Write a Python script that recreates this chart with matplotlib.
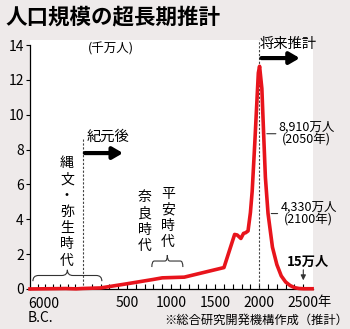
import matplotlib.pyplot as plt
from matplotlib.path import Path
from matplotlib.patches import PathPatch

plt.rcParams['font.family'] = ['Liberation Sans Narrow', 'Noto Sans CJK JP', 'DejaVu Sans']
JP = ['Noto Sans CJK JP', 'DejaVu Sans']

# population in units of 10 million (千万人)
bc_years = [7000, 5200, 2300, 900]
bc_pop = [0.002, 0.011, 0.026, 0.008]
ad_years = [0, 200, 500, 800, 900, 1150, 1600, 1721, 1750, 1792, 1822, 1846, 1873,
            1900, 1920, 1950, 1970, 1990, 2004, 2030, 2050, 2070, 2100, 2150, 2200,
            2250, 2300, 2350, 2400, 2450, 2500, 2600]
ad_pop = [0.03, 0.06, 0.3, 0.55, 0.64, 0.68, 1.23, 3.13, 3.1, 2.9, 3.19, 3.23, 3.33,
          4.38, 5.6, 8.4, 10.4, 12.4, 12.78, 11.5, 8.91, 6.4, 4.33, 2.4, 1.4,
          0.75, 0.4, 0.2, 0.08, 0.03, 0.015, 0.015]

y_ticks = [0, 2, 4, 6, 8, 10, 12, 14]
bc_tick_years = [6000, 5000, 4000, 3000, 2000, 1000]
x_label_years = [500, 1000, 1500, 2000, 2500]
x_labels = ['500', '1000', '1500', '2000', '2500']

BC_SPAN = 600  # axis width given to 7000 years B.C.
red = '#e8141c'


def bc_pos(y):
    return -y * BC_SPAN / 7000


def brace(ax, x0, x1, y_end, y_tip):
    xm = (x0 + x1) / 2
    ym = (y_end + y_tip) / 2
    r = (x1 - x0) * 0.08
    verts = [(x0, y_end), (x0, ym), (x0 + r, ym),
             (xm - r, ym), (xm, ym), (xm, y_tip),
             (xm, ym), (xm + r, ym),
             (x1 - r, ym), (x1, ym), (x1, y_end)]
    codes = [Path.MOVETO, Path.CURVE3, Path.CURVE3,
             Path.LINETO, Path.CURVE3, Path.CURVE3,
             Path.CURVE3, Path.CURVE3,
             Path.LINETO, Path.CURVE3, Path.CURVE3]
    ax.add_patch(PathPatch(Path(verts, codes), fill=False, lw=0.8, color='#333333'))


fig = plt.figure(figsize=(3.5, 3.29), dpi=100, facecolor='#eeeaea')
ax = fig.add_axes([30 / 350, 40 / 329, 283 / 350, 0.7575])
ax.set_facecolor('white')
ax.set_xlim(-BC_SPAN, 2610)
ax.set_ylim(0, 14.3)
for s in ['top', 'right']:
    ax.spines[s].set_visible(False)
ax.spines['left'].set_bounds(0, 14)
ax.spines['left'].set_linewidth(0.9)
ax.spines['bottom'].set_linewidth(0.9)

xs = [bc_pos(y) for y in bc_years] + ad_years
ys = bc_pop + ad_pop
ax.plot(xs, ys, color=red, lw=2.6, solid_joinstyle='round', clip_on=False, zorder=3)

ax.set_yticks(y_ticks)
ax.tick_params(axis='y', direction='out', length=3, width=0.8, pad=1.5, labelsize=10)
tick_pos = [bc_pos(y) for y in bc_tick_years] + list(range(100, 2600, 100))
tick_lab = ['' for _ in bc_tick_years] + [x_labels[x_label_years.index(t)] if t in x_label_years else ''
                                          for t in range(100, 2600, 100)]
ax.set_xticks(tick_pos)
ax.set_xticklabels(tick_lab)
ax.tick_params(axis='x', direction='in', length=3.5, width=0.8, pad=5, labelsize=10)

ax.text(-BC_SPAN - 25, -0.45, '6000\nB.C.', ha='left', va='top', fontsize=10, linespacing=1.05)
ax.text(2660, -0.42, '年', ha='left', va='top', fontsize=9.5, family=JP, clip_on=False)

# dashed separators
ax.plot([0, 0], [0, 8.66], ls=(0, (2, 1.5)), lw=0.8, color='#444444')
ax.plot([2000, 2000], [0, 14.3], ls=(0, (2, 1.5)), lw=0.8, color='#444444', clip_on=False, zorder=2)

ax.text(55, 13.8, '(千万人)', fontsize=9, family=JP, va='center', ha='left')

# arrows
ax.text(2010, 14.05, '将来推計', fontsize=10.3, family=JP, va='center', ha='left')
ax.annotate('', xy=(2460, 13.25), xytext=(2025, 13.25), annotation_clip=False,
            arrowprops=dict(arrowstyle='-|>,head_width=0.35,head_length=0.6', lw=3,
                            color='black', shrinkA=0, shrinkB=0))
ax.text(45, 8.75, '紀元後', fontsize=10.3, family=JP, va='center', ha='left')
ax.annotate('', xy=(455, 7.8), xytext=(22, 7.8),
            arrowprops=dict(arrowstyle='-|>,head_width=0.35,head_length=0.6', lw=3,
                            color='black', shrinkA=0, shrinkB=0))

# period labels
ax.text(-181, 4.42, '\n'.join('縄文・弥生時代'), fontsize=10, family=JP, ha='center', va='center',
        linespacing=1.2)
ax.text(703, 3.87, '\n'.join('奈良時代'), fontsize=10, family=JP, ha='center', va='center',
        linespacing=1.2)
ax.text(964, 4.07, '\n'.join('平安時代'), fontsize=10, family=JP, ha='center', va='center',
        linespacing=1.2)
brace(ax, -567, 215, 0.45, 1.1)
brace(ax, 782, 1134, 1.26, 1.95)

# annotations
ax.annotate('8,910万人\n(2050年)', xy=(2055, 8.91), xytext=(2220, 8.91), fontsize=9, family=JP,
            va='center', ha='left', multialignment='center', linespacing=1.0, annotation_clip=False,
            arrowprops=dict(arrowstyle='-', lw=0.8, color='#333333', shrinkA=0, shrinkB=2))
ax.annotate('4,330万人\n(2100年)', xy=(2105, 4.33), xytext=(2240, 4.33), fontsize=9, family=JP,
            va='center', ha='left', multialignment='center', linespacing=1.0, annotation_clip=False,
            arrowprops=dict(arrowstyle='-', lw=0.8, color='#333333', shrinkA=0, shrinkB=2))
ax.text(2551, 1.55, '15万人', fontsize=9.5, family=JP, fontweight='bold', ha='center', va='center')
ax.annotate('', xy=(2500, 0.5), xytext=(2500, 1.1),
            arrowprops=dict(arrowstyle='-|>,head_width=0.15,head_length=0.3', lw=0.8,
                            color='#333333', shrinkA=0, shrinkB=0))

fig.text(5 / 350, 1 - 17 / 329, '人口規模の超長期推計', fontsize=15.5, fontweight='bold',
         family=JP, va='center', ha='left')
fig.text(348 / 350, 1 - 320 / 329, '※総合研究開発機構作成（推計）', fontsize=8.8, family=JP,
         va='center', ha='right')

fig.savefig('out.png', dpi=100, facecolor=fig.get_facecolor())
